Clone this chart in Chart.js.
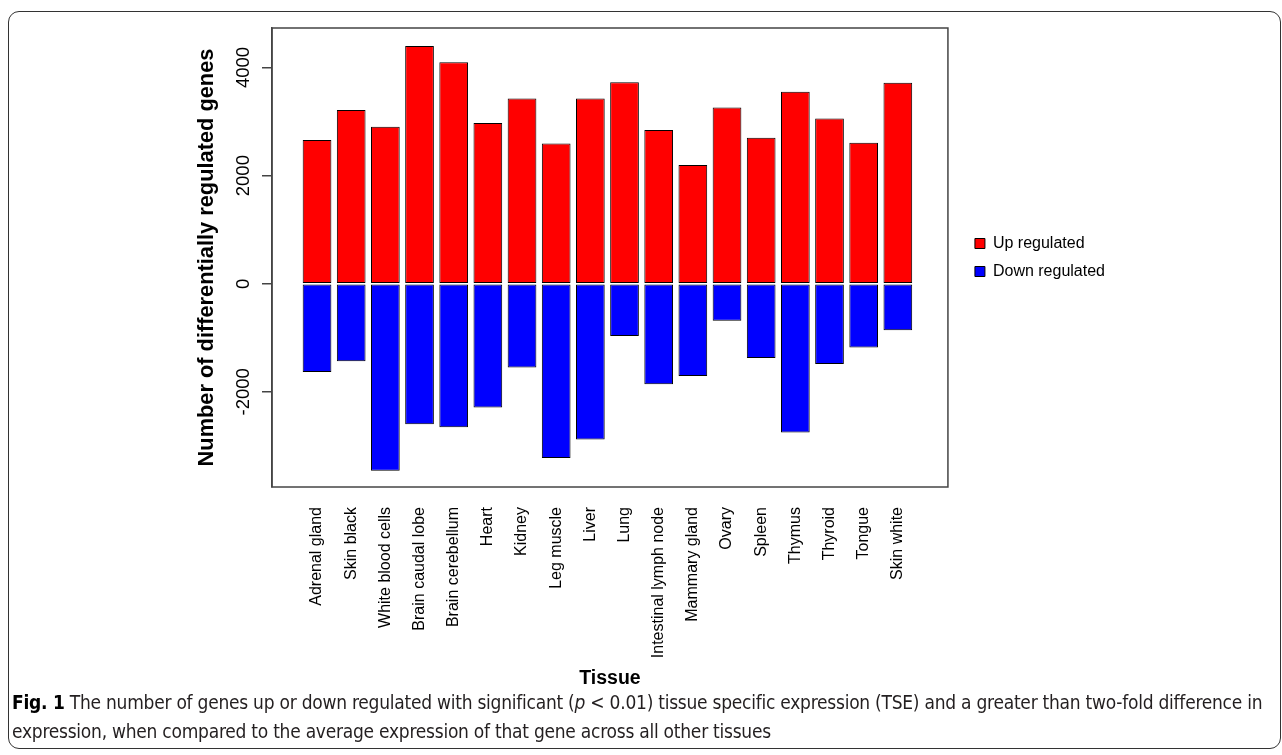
<!DOCTYPE html>
<html>
<head>
<meta charset="utf-8">
<script src="https://cdn.jsdelivr.net/npm/chart.js@4.4.1/dist/chart.umd.min.js"></script>
<style>
  html, body { margin: 0; padding: 0; background: #fff; }
  #moldura { position: absolute; left: 8px; top: 11px; width: 1273px; height: 738px; border: 1.5px solid #333; border-radius: 11px; box-sizing: border-box; }
  #chart1 { position: absolute; left: 0; top: 0; }
  #legenda { position: absolute; left: 12px; top: 688px; font-family: "Liberation Sans Narrow", "DejaVu Sans Condensed", sans-serif; font-size: 19px; letter-spacing: -0.25px; line-height: 29px; color: #231f20; white-space: nowrap; }
  #legenda b { color: #000; }
</style>
</head>
<body>
<div id="moldura"></div>
<canvas id="chart1" width="1282" height="694"></canvas>
<div id="legenda"><b>Fig. 1</b> The number of genes up or down regulated with significant (<i>p</i> &lt; 0.01) tissue specific expression (TSE) and a greater than two-fold difference in<br>expression, when compared to the average expression of that gene across all other tissues</div>
<script>
  const tecidos = ['Adrenal gland', 'Skin black', 'White blood cells', 'Brain caudal lobe', 'Brain cerebellum',
    'Heart', 'Kidney', 'Leg muscle', 'Liver', 'Lung', 'Intestinal lymph node', 'Mammary gland',
    'Ovary', 'Spleen', 'Thymus', 'Thyroid', 'Tongue', 'Skin white'];

  const upRegulados = [2658, 3212, 2904, 4399, 4098, 2975, 3426, 2596, 3426, 3729, 2843, 2197, 3260, 2701, 3550, 3057, 2608, 3716];
  const downRegulados = [-1631, -1434, -3459, -2597, -2653, -2289, -1551, -3225, -2880, -967, -1859, -1705, -683, -1373, -2751, -1484, -1181, -862];

  const ticksY = [-2000, 0, 2000, 4000];

  const ctx = document.getElementById('chart1').getContext('2d');
  const vermelho = '#ff0000';
  const azul = '#0000ff';
  const cinza = '#444444';
  const fonte = "'Liberation Sans', Arial, sans-serif";

  // box around the plot region + nudge legend a bit right, like R's legend()
  const caixa = {
    id: 'caixa',
    afterLayout(chart) {
      chart.legend.left += 15;
      chart.legend.right += 15;
    },
    afterDraw(chart) {
      const a = chart.chartArea;
      const c = chart.ctx;
      c.save();
      c.strokeStyle = cinza;
      c.lineWidth = 1.5;
      c.strokeRect(a.left, a.top, a.right - a.left, a.bottom - a.top);
      c.restore();
    }
  };

  new Chart(ctx, {
    type: 'bar',
    data: {
      datasets: [{
        label: 'Up regulated',
        backgroundColor: vermelho,
        borderColor: '#000',
        borderWidth: 1,
        borderSkipped: false,
        data: upRegulados.map((v, i) => ({ x: i, y: v }))
      }, {
        label: 'Down regulated',
        backgroundColor: azul,
        borderColor: '#000',
        borderWidth: 1,
        borderSkipped: false,
        data: downRegulados.map((v, i) => ({ x: i, y: v }))
      }]
    },
    options: {
      responsive: false,
      animation: false,
      grouped: false,
      barPercentage: 0.84,
      categoryPercentage: 1,
      layout: {
        padding: { left: 190, top: 28, right: 182, bottom: 0 }
      },
      plugins: {
        legend: {
          position: 'right',
          fullSize: false,
          labels: {
            boxWidth: 10,
            boxHeight: 10,
            padding: 12,
            color: '#000',
            font: { family: fonte, size: 16 }
          }
        },
        tooltip: { enabled: false }
      },
      scales: {
        x: {
          type: 'linear',
          bounds: 'data',
          offset: false,
          min: -1.318,
          max: 18.466,
          afterBuildTicks: s => {
            s.min = s.options.min;
            s.max = s.options.max;
            s.ticks = tecidos.map((t, i) => ({ value: i }));
          },
          afterFit: s => { s.height = 207; },
          grid: { display: false, drawTicks: false },
          border: { display: false },
          ticks: {
            autoSkip: false,
            minRotation: 90,
            maxRotation: 90,
            padding: 20,
            color: '#000',
            font: { family: fonte, size: 16 },
            callback: v => tecidos[v]
          },
          title: {
            display: true,
            text: 'Tissue',
            color: '#000',
            font: { family: fonte, size: 19.5, weight: 'bold' },
            padding: { top: 4, bottom: 4 }
          }
        },
        y: {
          min: -3760,
          max: 4731,
          afterBuildTicks: s => { s.ticks = ticksY.map(v => ({ value: v })); },
          afterFit: s => { s.width = 82; },
          grid: { drawOnChartArea: false, drawTicks: true, tickLength: 10, color: cinza, lineWidth: 1.5 },
          border: { display: true, color: cinza, width: 1.5 },
          ticks: {
            minRotation: 90,
            maxRotation: 90,
            crossAlign: 'center',
            padding: -6,
            color: '#000',
            font: { family: fonte, size: 18.5 },
            callback: v => String(v)
          },
          title: {
            display: true,
            text: 'Number of differentially regulated genes',
            color: '#000',
            font: { family: fonte, size: 21.8, weight: 'bold' },
            padding: { top: 4, bottom: 4 }
          }
        }
      }
    },
    plugins: [caixa]
  });
</script>
</body>
</html>
